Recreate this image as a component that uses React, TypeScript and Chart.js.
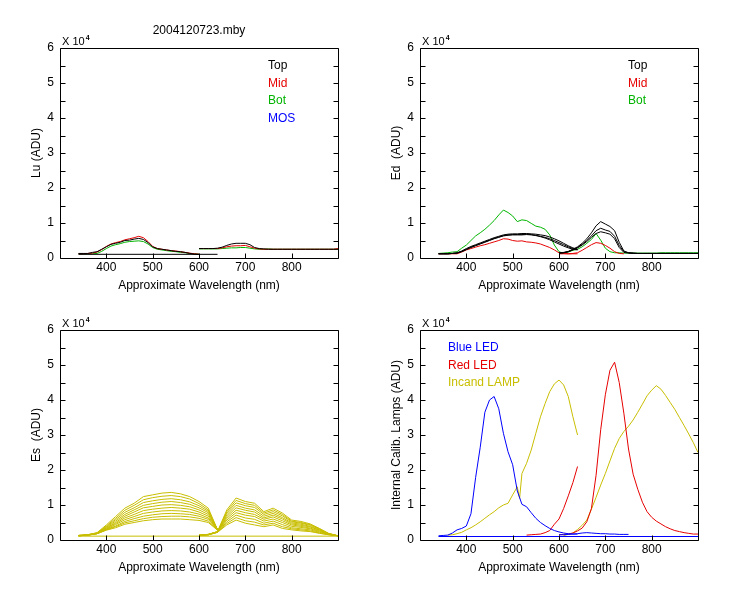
import React, { useEffect, useRef } from 'react';
import { Chart, registerables } from 'chart.js';

Chart.register(...registerables);

const FONT = '"Liberation Sans", Arial, sans-serif';

const BLACK = '#000000';
const RED = '#e60000';
const GREEN = '#00b400';
const BLUE = '#0000ff';
const YELLOW = '#c8be00';

// ---------- wavelength categories (nm) ----------
const WL_A = [340, 350, 360, 370, 380, 390, 400, 410, 420, 430, 440, 450, 460, 470, 480, 490, 500, 510, 520, 530, 540, 550, 560, 570, 580, 590, 600, 610, 620, 630, 640];
const WL_B = [600, 610, 620, 630, 640, 650, 660, 670, 680, 690, 700, 710, 720, 730, 740, 750, 760, 770, 780, 790, 800, 810, 820, 830, 840, 850, 860, 870, 880, 890, 900];
const WL_A20 = [340, 360, 380, 400, 420, 440, 460, 480, 500, 520, 540, 560, 580, 600, 620, 640];
const WL_B20 = [600, 620, 640, 660, 680, 700, 720, 740, 760, 780, 800, 820, 840, 860, 880, 900];
const BASE_A_X = [340, 640];
const BASE_FULL_X = [340, 900];
const LAMP_WL_A = [360, 370, 380, 390, 400, 410, 420, 430, 440, 450, 460, 470, 480, 490, 500, 510, 515, 520, 530, 540, 550, 560, 570, 580, 590, 600, 610, 620, 630, 640];

// ---------- tick labels ----------
const X_TICKS = [400, 500, 600, 700, 800];
const Y_TICKS = [0, 0.5, 1, 1.5, 2, 2.5, 3, 3.5, 4, 4.5, 5, 5.5, 6];

// ---------- Lu (x10^4 ADU) ----------
const LU_TOP_A = [0.13, 0.13, 0.13, 0.16, 0.18, 0.25, 0.32, 0.39, 0.42, 0.45, 0.50, 0.51, 0.54, 0.56, 0.53, 0.44, 0.32, 0.27, 0.25, 0.23, 0.21, 0.19, 0.18, 0.16, 0.13, 0.11, 0.10];
const LU_MID_A = [0.12, 0.12, 0.13, 0.14, 0.17, 0.24, 0.33, 0.40, 0.44, 0.47, 0.52, 0.55, 0.58, 0.62, 0.58, 0.47, 0.33, 0.27, 0.25, 0.23, 0.21, 0.20, 0.18, 0.16, 0.14, 0.12, 0.11];
const LU_BOT_A = [0.12, 0.12, 0.12, 0.12, 0.13, 0.19, 0.27, 0.34, 0.38, 0.41, 0.45, 0.47, 0.48, 0.49, 0.47, 0.40, 0.30, 0.25, 0.23, 0.21, 0.19, 0.18, 0.16, 0.15, 0.13, 0.12, 0.11];
const LU_BASE_A = [0.105, 0.105];
const LU_TOP_B = [0.27, 0.27, 0.27, 0.27, 0.28, 0.31, 0.36, 0.40, 0.42, 0.42, 0.42, 0.38, 0.30, 0.27, 0.26, 0.25, 0.25, 0.25, 0.25, 0.25, 0.25, 0.25, 0.25, 0.25, 0.25, 0.25, 0.25, 0.25, 0.25, 0.25, 0.25];
const LU_MID_B = [0.27, 0.27, 0.27, 0.27, 0.27, 0.29, 0.32, 0.34, 0.35, 0.35, 0.36, 0.32, 0.28, 0.26, 0.25, 0.25, 0.25, 0.25, 0.25, 0.25, 0.25, 0.25, 0.25, 0.25, 0.25, 0.25, 0.25, 0.25, 0.25, 0.25, 0.27];
const LU_BOT_B = [0.26, 0.26, 0.26, 0.26, 0.26, 0.27, 0.28, 0.29, 0.29, 0.30, 0.30, 0.28, 0.26, 0.25, 0.25, 0.26, 0.25, 0.25, 0.25, 0.25, 0.25, 0.25, 0.25, 0.25, 0.25, 0.25, 0.25, 0.25, 0.25, 0.25, 0.25];

// ---------- Ed (x10^4 ADU) ----------
const ED_BOT_A = [0.13, 0.14, 0.15, 0.17, 0.18, 0.28, 0.37, 0.50, 0.63, 0.72, 0.82, 0.94, 1.07, 1.23, 1.37, 1.30, 1.20, 1.04, 1.09, 1.07, 0.99, 0.91, 0.88, 0.82, 0.66, 0.37, 0.18, 0.13];
const ED_TOP1_A = [0.12, 0.12, 0.12, 0.13, 0.15, 0.20, 0.27, 0.33, 0.38, 0.43, 0.48, 0.53, 0.58, 0.62, 0.66, 0.68, 0.69, 0.69, 0.70, 0.70, 0.69, 0.68, 0.66, 0.64, 0.60, 0.55, 0.49, 0.42, 0.35, 0.29, 0.25];
const ED_TOP2_A = [0.12, 0.12, 0.12, 0.13, 0.14, 0.19, 0.25, 0.31, 0.36, 0.41, 0.46, 0.51, 0.56, 0.60, 0.64, 0.66, 0.67, 0.67, 0.67, 0.68, 0.67, 0.65, 0.62, 0.59, 0.55, 0.50, 0.44, 0.38, 0.32, 0.27, 0.24];
const ED_TOP3_A = [0.12, 0.12, 0.12, 0.13, 0.14, 0.18, 0.24, 0.30, 0.35, 0.40, 0.45, 0.50, 0.55, 0.59, 0.63, 0.65, 0.66, 0.66, 0.66, 0.67, 0.66, 0.64, 0.61, 0.57, 0.52, 0.46, 0.40, 0.34, 0.29, 0.25, 0.23];
const ED_MID_A = [0.12, 0.12, 0.12, 0.12, 0.12, 0.17, 0.23, 0.27, 0.31, 0.35, 0.38, 0.42, 0.46, 0.50, 0.55, 0.54, 0.50, 0.48, 0.49, 0.46, 0.45, 0.43, 0.40, 0.35, 0.30, 0.23, 0.15, 0.13, 0.12, 0.12, 0.12];
const ED_BOT_B = [0.13, 0.14, 0.17, 0.22, 0.25, 0.32, 0.42, 0.53, 0.70, 0.51, 0.28, 0.18, 0.15, 0.15, 0.14, 0.14, 0.14, 0.14, 0.14, 0.14, 0.14, 0.14, 0.15, 0.15, 0.15, 0.15, 0.15, 0.15, 0.15, 0.15, 0.15];
const ED_TOP1_B = [0.15, 0.16, 0.19, 0.25, 0.32, 0.42, 0.55, 0.72, 0.92, 1.04, 0.97, 0.90, 0.78, 0.45, 0.20, 0.15, 0.14, 0.13, 0.13, 0.13, 0.13, 0.13, 0.13, 0.13, 0.13, 0.13, 0.13, 0.13, 0.13, 0.13, 0.13];
const ED_TOP2_B = [0.14, 0.15, 0.18, 0.24, 0.30, 0.39, 0.50, 0.63, 0.78, 0.85, 0.80, 0.76, 0.62, 0.36, 0.18, 0.15, 0.14, 0.13, 0.13, 0.13, 0.13, 0.13, 0.13, 0.13, 0.13, 0.13, 0.13, 0.13, 0.13, 0.13, 0.13];
const ED_TOP3_B = [0.14, 0.15, 0.18, 0.23, 0.29, 0.37, 0.47, 0.59, 0.70, 0.75, 0.72, 0.68, 0.55, 0.30, 0.16, 0.14, 0.13, 0.13, 0.13, 0.13, 0.13, 0.13, 0.13, 0.13, 0.13, 0.13, 0.13, 0.13, 0.13, 0.13, 0.13];
const ED_MID_B = [0.12, 0.12, 0.12, 0.13, 0.15, 0.22, 0.30, 0.38, 0.44, 0.42, 0.36, 0.28, 0.18, 0.13, 0.12];

// ---------- Es (x10^4 ADU), one row per cast, 20 nm steps ----------
const ES_A1 = [0.13, 0.15, 0.21, 0.43, 0.67, 0.91, 1.05, 1.24, 1.29, 1.34, 1.36, 1.32, 1.24, 1.10, 0.91, 0.29];
const ES_A2 = [0.13, 0.15, 0.20, 0.40, 0.62, 0.85, 0.99, 1.15, 1.21, 1.25, 1.27, 1.24, 1.17, 1.04, 0.86, 0.29];
const ES_A3 = [0.13, 0.15, 0.20, 0.38, 0.58, 0.79, 0.92, 1.07, 1.12, 1.16, 1.18, 1.15, 1.09, 0.98, 0.82, 0.30];
const ES_A4 = [0.13, 0.15, 0.19, 0.36, 0.54, 0.73, 0.86, 0.99, 1.04, 1.08, 1.10, 1.07, 1.02, 0.92, 0.78, 0.30];
const ES_A5 = [0.12, 0.14, 0.19, 0.34, 0.50, 0.68, 0.80, 0.92, 0.96, 1.00, 1.01, 0.99, 0.95, 0.86, 0.73, 0.30];
const ES_A6 = [0.12, 0.14, 0.19, 0.33, 0.47, 0.63, 0.73, 0.84, 0.88, 0.91, 0.93, 0.91, 0.88, 0.80, 0.68, 0.30];
const ES_A7 = [0.12, 0.14, 0.18, 0.31, 0.44, 0.58, 0.67, 0.76, 0.80, 0.83, 0.84, 0.83, 0.80, 0.74, 0.63, 0.29];
const ES_A8 = [0.12, 0.14, 0.18, 0.30, 0.40, 0.53, 0.61, 0.68, 0.72, 0.75, 0.76, 0.75, 0.73, 0.68, 0.59, 0.29];
const ES_A9 = [0.12, 0.14, 0.18, 0.29, 0.38, 0.49, 0.55, 0.61, 0.65, 0.67, 0.68, 0.68, 0.66, 0.62, 0.54, 0.28];
const ES_A10 = [0.12, 0.14, 0.18, 0.28, 0.35, 0.45, 0.50, 0.55, 0.58, 0.60, 0.60, 0.60, 0.58, 0.56, 0.50, 0.28];
const ES_B1 = [0.14, 0.16, 0.24, 0.86, 1.20, 1.10, 1.05, 0.81, 0.91, 0.77, 0.57, 0.53, 0.46, 0.33, 0.19, 0.12];
const ES_B2 = [0.14, 0.16, 0.24, 0.81, 1.13, 1.04, 0.99, 0.77, 0.86, 0.73, 0.54, 0.50, 0.44, 0.32, 0.18, 0.12];
const ES_B3 = [0.14, 0.16, 0.24, 0.77, 1.06, 0.98, 0.93, 0.73, 0.81, 0.69, 0.52, 0.48, 0.42, 0.31, 0.18, 0.12];
const ES_B4 = [0.14, 0.16, 0.23, 0.72, 0.99, 0.91, 0.86, 0.68, 0.76, 0.64, 0.49, 0.45, 0.39, 0.29, 0.18, 0.12];
const ES_B5 = [0.13, 0.16, 0.23, 0.67, 0.92, 0.85, 0.80, 0.63, 0.71, 0.60, 0.46, 0.42, 0.37, 0.28, 0.17, 0.12];
const ES_B6 = [0.13, 0.15, 0.23, 0.62, 0.85, 0.78, 0.73, 0.59, 0.66, 0.55, 0.43, 0.39, 0.34, 0.26, 0.17, 0.12];
const ES_B7 = [0.13, 0.15, 0.23, 0.57, 0.78, 0.71, 0.67, 0.54, 0.60, 0.50, 0.39, 0.36, 0.32, 0.24, 0.16, 0.12];
const ES_B8 = [0.13, 0.15, 0.22, 0.52, 0.71, 0.63, 0.59, 0.48, 0.54, 0.44, 0.35, 0.32, 0.29, 0.22, 0.16, 0.12];
const ES_B9 = [0.13, 0.15, 0.22, 0.47, 0.64, 0.55, 0.51, 0.43, 0.48, 0.38, 0.32, 0.29, 0.26, 0.20, 0.15, 0.12];
const ES_B10 = [0.13, 0.15, 0.22, 0.43, 0.57, 0.48, 0.43, 0.38, 0.43, 0.33, 0.29, 0.26, 0.24, 0.19, 0.15, 0.12];
const ES_BASE = [0.11, 0.11];

// ---------- Internal calibration lamps (x10^4 ADU) ----------
const BLUE_A = [0.12, 0.13, 0.14, 0.20, 0.29, 0.33, 0.40, 0.75, 1.78, 2.65, 3.65, 4.00, 4.10, 3.75, 3.05, 2.52, 2.15, 1.40, 1.02, 0.95, 0.78, 0.62, 0.50, 0.41, 0.33, 0.27, 0.23, 0.20, 0.18, 0.17, 0.17];
const BLUE_B = [0.15, 0.15, 0.16, 0.17, 0.18, 0.20, 0.21, 0.20, 0.19, 0.18, 0.18, 0.17, 0.17, 0.16, 0.16, 0.16];
const BLUE_BASE = [0.10, 0.10];
const RED_A = [null, null, null, null, null, null, null, null, null, null, null, null, null, null, null, null, null, null, null, 0.14, 0.15, 0.16, 0.17, 0.21, 0.27, 0.45, 0.60, 0.90, 1.26, 1.64, 2.10];
const RED_B = [0.15, 0.16, 0.17, 0.20, 0.26, 0.34, 0.52, 0.90, 1.85, 3.15, 4.15, 4.85, 5.08, 4.50, 3.62, 2.60, 1.88, 1.45, 1.08, 0.81, 0.65, 0.54, 0.46, 0.38, 0.32, 0.27, 0.24, 0.21, 0.19, 0.17, 0.17];
const LAMP_A = [0.14, 0.15, 0.18, 0.22, 0.29, 0.35, 0.43, 0.52, 0.62, 0.72, 0.81, 0.92, 1.00, 1.05, 1.29, 1.52, 1.19, 1.90, 2.19, 2.57, 3.05, 3.52, 3.90, 4.24, 4.46, 4.57, 4.43, 4.10, 3.52, 3.00];
const LAMP_B = [null, 0.13, 0.16, 0.20, 0.30, 0.42, 0.57, 0.88, 1.22, 1.57, 1.90, 2.26, 2.62, 2.90, 3.10, 3.25, 3.43, 3.65, 3.88, 4.12, 4.28, 4.41, 4.31, 4.13, 3.93, 3.73, 3.50, 3.27, 3.03, 2.78, 2.50];

// ---------- helpers ----------
function series(xs: number[], ys: (number | null)[], color: string) {
  return {
    data: ys.map((y, i) => ({ x: xs[i], y })),
    borderColor: color,
    backgroundColor: color,
    borderWidth: 1,
    pointRadius: 0,
    fill: false,
    tension: 0,
    spanGaps: false,
  };
}

type LegendItem = { text: string; color: string };
type FrameOpts = {
  yTitle: string;
  xTitle: string;
  title?: string;
  legend: LegendItem[];
  legendDx: number;
};

const framePlugin = {
  id: 'frame',
  afterDraw(chart: any, _args: any, opts: FrameOpts) {
    const { ctx, chartArea: a, scales } = chart;
    const xs = scales.x;
    const ys = scales.y;
    ctx.save();
    ctx.strokeStyle = '#000';
    ctx.lineWidth = 1;
    const L = Math.round(a.left) + 0.5;
    const R = Math.round(a.right) + 0.5;
    const T = Math.round(a.top) + 0.5;
    const B = Math.round(a.bottom) + 0.5;
    ctx.beginPath();
    ctx.rect(L, T, R - L, B - T);
    for (const v of Y_TICKS) {
      const p = Math.round(ys.getPixelForValue(v)) + 0.5;
      ctx.moveTo(L, p);
      ctx.lineTo(L + 5, p);
      ctx.moveTo(R, p);
      ctx.lineTo(R - 5, p);
    }
    for (const v of X_TICKS) {
      const p = Math.round(xs.getPixelForValue(v)) + 0.5;
      ctx.moveTo(p, B);
      ctx.lineTo(p, B - 5);
    }
    ctx.stroke();

    ctx.fillStyle = '#000';
    // exponent marker
    ctx.textAlign = 'left';
    ctx.textBaseline = 'alphabetic';
    ctx.font = `11px ${FONT}`;
    ctx.fillText('X 10', a.left + 2, a.top - 3);
    const w = ctx.measureText('X 10').width;
    ctx.font = `bold 7px ${FONT}`;
    ctx.fillText('4', a.left + 3 + w, a.top - 8);

    ctx.font = `12px ${FONT}`;
    // x title
    ctx.textAlign = 'center';
    ctx.fillText(opts.xTitle, (a.left + a.right) / 2, a.bottom + 31);
    // main title
    if (opts.title) ctx.fillText(opts.title, (a.left + a.right) / 2, a.top - 14);
    // y title
    ctx.save();
    ctx.translate(a.left - 20, (a.top + a.bottom) / 2);
    ctx.rotate(-Math.PI / 2);
    ctx.fillText(opts.yTitle, 0, 0);
    ctx.restore();
    // legend
    ctx.textAlign = 'left';
    opts.legend.forEach((it, i) => {
      ctx.fillStyle = it.color;
      ctx.fillText(it.text, a.left + opts.legendDx, a.top + 21 + i * 17.5);
    });
    ctx.restore();
  },
};

function makeConfig(datasets: any[], frame: FrameOpts): any {
  const tickFont = { family: FONT, size: 12 };
  return {
    type: 'line',
    data: { datasets },
    options: {
      animation: false,
      responsive: false,
      devicePixelRatio: 1,
      parsing: true,
      layout: { padding: { top: 48, right: 37, left: 0, bottom: 0 } },
      plugins: {
        legend: { display: false },
        tooltip: { enabled: false },
        title: { display: false },
        frame,
      },
      scales: {
        x: {
          type: 'linear',
          min: 300,
          max: 900,
          grid: { display: false, drawTicks: false },
          border: { display: false },
          ticks: {
            stepSize: 100,
            autoSkip: false,
            maxRotation: 0,
            padding: 2,
            color: '#000',
            font: tickFont,
            callback: (v: number) => (v >= 400 && v <= 800 ? String(v) : ''),
          },
          afterFit: (s: any) => {
            s.height = 42;
          },
        },
        y: {
          type: 'linear',
          min: 0,
          max: 6,
          grid: { display: false, drawTicks: false },
          border: { display: false },
          ticks: {
            stepSize: 0.5,
            autoSkip: false,
            padding: 6,
            color: '#000',
            font: tickFont,
            callback: (v: number) => (Number.isInteger(v) ? String(v) : ''),
          },
          afterFit: (s: any) => {
            s.width = 60;
          },
        },
      },
    },
    plugins: [framePlugin],
  };
}

const XT = 'Approximate Wavelength (nm)';

function luConfig() {
  return makeConfig(
    [
      series(WL_A, LU_TOP_A, BLACK),
      series(WL_B, LU_TOP_B, BLACK),
      series(BASE_A_X, LU_BASE_A, BLACK),
      series(WL_A, LU_MID_A, RED),
      series(WL_B, LU_MID_B, RED),
      series(WL_A, LU_BOT_A, GREEN),
      series(WL_B, LU_BOT_B, GREEN),
    ],
    {
      yTitle: 'Lu (ADU)',
      xTitle: XT,
      title: '2004120723.mby',
      legendDx: 208,
      legend: [
        { text: 'Top', color: BLACK },
        { text: 'Mid', color: RED },
        { text: 'Bot', color: GREEN },
        { text: 'MOS', color: BLUE },
      ],
    }
  );
}

function edConfig() {
  return makeConfig(
    [
      series(WL_A, ED_TOP1_A, BLACK),
      series(WL_A, ED_TOP2_A, BLACK),
      series(WL_A, ED_TOP3_A, BLACK),
      series(WL_B, ED_TOP1_B, BLACK),
      series(WL_B, ED_TOP2_B, BLACK),
      series(WL_B, ED_TOP3_B, BLACK),
      series(WL_A, ED_MID_A, RED),
      series(WL_B, ED_MID_B, RED),
      series(WL_A, ED_BOT_A, GREEN),
      series(WL_B, ED_BOT_B, GREEN),
    ],
    {
      yTitle: 'Ed  (ADU)',
      xTitle: XT,
      legendDx: 208,
      legend: [
        { text: 'Top', color: BLACK },
        { text: 'Mid', color: RED },
        { text: 'Bot', color: GREEN },
      ],
    }
  );
}

function esConfig() {
  const a = [ES_A1, ES_A2, ES_A3, ES_A4, ES_A5, ES_A6, ES_A7, ES_A8, ES_A9, ES_A10];
  const b = [ES_B1, ES_B2, ES_B3, ES_B4, ES_B5, ES_B6, ES_B7, ES_B8, ES_B9, ES_B10];
  return makeConfig(
    [
      series(BASE_FULL_X, ES_BASE, YELLOW),
      ...a.map((s) => series(WL_A20, s, YELLOW)),
      ...b.map((s) => series(WL_B20, s, YELLOW)),
    ],
    { yTitle: 'Es  (ADU)', xTitle: XT, legendDx: 208, legend: [] }
  );
}

function lampConfig() {
  return makeConfig(
    [
      series(BASE_FULL_X, BLUE_BASE, BLUE),
      series(WL_A, BLUE_A, BLUE),
      series(WL_B, BLUE_B, BLUE),
      series(WL_A, RED_A, RED),
      series(WL_B, RED_B, RED),
      series(LAMP_WL_A, LAMP_A, YELLOW),
      series(WL_B, LAMP_B, YELLOW),
    ],
    {
      yTitle: 'Internal Calib. Lamps (ADU)',
      xTitle: XT,
      legendDx: 28,
      legend: [
        { text: 'Blue LED', color: BLUE },
        { text: 'Red LED', color: RED },
        { text: 'Incand LAMP', color: YELLOW },
      ],
    }
  );
}

function Panel({ left, top, make }: { left: number; top: number; make: () => any }) {
  const ref = useRef<HTMLCanvasElement | null>(null);
  useEffect(() => {
    if (!ref.current) return;
    const chart = new Chart(ref.current, make());
    return () => chart.destroy();
  }, [make]);
  return (
    <canvas
      ref={ref}
      width={375}
      height={300}
      style={{ position: 'absolute', left, top, width: 375, height: 300 }}
    />
  );
}

export default function App() {
  return (
    <div
      style={{
        position: 'absolute',
        left: 0,
        top: 0,
        width: 750,
        height: 600,
        background: '#ffffff',
        overflow: 'hidden',
      }}
    >
      <Panel left={0} top={0} make={luConfig} />
      <Panel left={360} top={0} make={edConfig} />
      <Panel left={0} top={282} make={esConfig} />
      <Panel left={360} top={282} make={lampConfig} />
    </div>
  );
}
